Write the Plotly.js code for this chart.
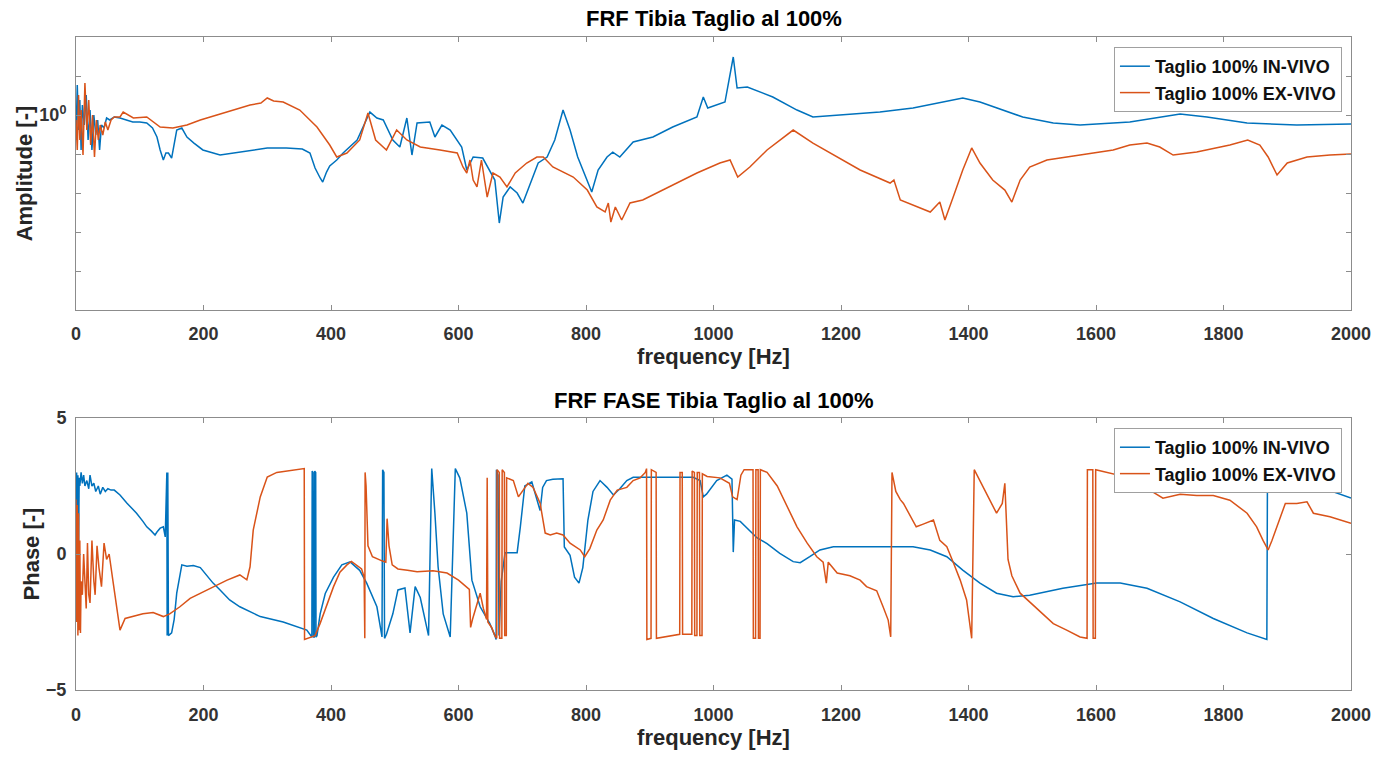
<!DOCTYPE html>
<html>
<head>
<meta charset="utf-8">
<script src="https://cdn.plot.ly/plotly-3.0.1.min.js"></script>
<style>html,body{margin:0;padding:0;background:#fff}#chart{width:1397px;height:760px}</style>
</head>
<body>
<div id="chart"></div>
<script>
// ---------- DATA (frequency [Hz], value) ----------
const seriesNames = ['Taglio 100% IN-VIVO', 'Taglio 100% EX-VIVO'];
const xTicks = [0, 200, 400, 600, 800, 1000, 1200, 1400, 1600, 1800, 2000];
const ampDecades = [1e-5, 1e-4, 1e-3, 1e-2, 1e-1, 1, 10, 100];
const ampLabelVals = [1];
const ampLabelText = ['10<sup>0</sup>'];
const phaseTicks = [-5, 0, 5];

// Amplitude [-] (log scale)
const ampInVivo = [[0,0.229],[2,5.88],[4,0.412],[6,2.42],[8,0.127],[10,1.80],[13,0.554],[16,3.26],[19,0.229],[22,1.34],
[25,0.127],[28,1.00],[31,0.307],[34,0.745],[37,0.127],[40,0.554],[44,0.464],[48,0.838],[53,0.745],[60,0.889],
[69,0.838],[80,0.745],[89,0.662],[100,0.662],[111,0.624],[120,0.464],[127,0.273],[132,0.127],[137,0.0702],[141,0.106],
[145,0.106],[150,0.0789],[158,0.412],[166,0.464],[174,0.273],[185,0.191],[199,0.127],[226,0.0942],[246,0.106],[273,0.127],
[300,0.143],[330,0.143],[355,0.134],[367,0.106],[375,0.0438],[383,0.0243],[387,0.0191],[393,0.0345],[398,0.0492],[409,0.0702],
[419,0.106],[441,0.229],[461,1.19],[472,0.838],[482,0.745],[497,0.229],[508,0.151],[519,0.838],[527,0.0942],[535,0.624],
[555,0.662],[563,0.273],[574,0.554],[587,0.412],[605,0.151],[613,0.0389],[623,0.0838],[638,0.0789],[649,0.0389],[657,0.0215],
[664,0.00170],[670,0.00789],[681,0.0143],[692,0.0100],[701,0.00554],[709,0.0119],[725,0.0588],[739,0.0838],[751,0.229],[764,1.34],
[775,0.412],[787,0.0838],[802,0.0215],[809,0.0106],[819,0.0389],[833,0.0838],[842,0.112],[853,0.0838],[874,0.203],[905,0.273],
[936,0.492],[974,0.889],[984,2.90],[991,1.51],[1018,2.15],[1031,30.7],[1037,4.92],[1053,5.22],[1093,2.90],[1131,1.34],
[1156,0.889],[1198,1.00],[1261,1.19],[1313,1.51],[1391,2.73],[1418,2.15],[1485,0.889],[1533,0.624],[1575,0.554],[1653,0.662],
[1732,1.06],[1774,0.889],[1837,0.624],[1915,0.554],[2000,0.588]];

const ampExVivo = [[0,0.745],[2,0.127],[4,3.26],[6,0.229],[8,1.34],[11,0.0942],[14,6.61],[17,0.412],[20,2.42],[23,0.170],
[26,1.00],[29,0.0838],[32,0.745],[35,0.229],[38,0.554],[42,0.307],[46,0.662],[50,0.412],[55,0.745],[60,0.889],
[69,0.889],[74,1.19],[90,0.838],[111,0.889],[132,0.492],[152,0.464],[174,0.554],[195,0.745],[221,1.00],[246,1.34],
[273,1.80],[290,2.03],[300,2.73],[310,2.29],[325,2.15],[351,1.34],[378,0.492],[398,0.170],[409,0.0838],[425,0.106],
[445,0.229],[458,1.13],[470,0.229],[487,0.127],[503,0.412],[519,0.229],[540,0.151],[571,0.127],[598,0.106],[607,0.0464],
[613,0.0326],[618,0.0702],[623,0.0215],[629,0.0143],[636,0.0702],[645,0.00789],[654,0.0326],[665,0.0257],[676,0.0143],[689,0.0326],
[707,0.0588],[723,0.0838],[733,0.0838],[748,0.0464],[780,0.0257],[802,0.0119],[817,0.00438],[830,0.00326],[835,0.00554],[839,0.00180],
[846,0.00438],[856,0.00203],[869,0.00554],[889,0.00662],[911,0.0100],[943,0.0180],[974,0.0326],[1010,0.0588],[1026,0.0702],[1038,0.0257],
[1057,0.0464],[1084,0.127],[1125,0.412],[1156,0.191],[1194,0.0838],[1230,0.0389],[1277,0.0180],[1283,0.0215],[1293,0.00662],[1319,0.00438],
[1340,0.00326],[1355,0.00588],[1363,0.00203],[1376,0.00789],[1391,0.0389],[1405,0.143],[1418,0.0588],[1438,0.0215],[1457,0.0119],[1468,0.00588],
[1481,0.0215],[1496,0.0464],[1523,0.0702],[1575,0.0942],[1627,0.127],[1653,0.170],[1680,0.191],[1700,0.151],[1721,0.0942],[1758,0.112],
[1810,0.170],[1838,0.229],[1857,0.170],[1870,0.0838],[1884,0.0290],[1900,0.0588],[1931,0.0838],[1967,0.0942],[2000,0.100]];

// Phase [-]
const phaseInVivo = [[0,-2.5],[1,3.0],[2,-1.0],[3,2.9],[4,0.0],[5,2.8],[6,2.5],[8,3.0],[10,2.6],[12,2.9],
[14,2.5],[17,2.7],[20,2.4],[22,2.9],[25,2.5],[28,2.6],[31,2.3],[35,2.5],[38,2.2],[42,2.45],
[46,2.3],[50,2.4],[55,2.35],[60,2.35],[69,2.17],[80,1.87],[95,1.5],[105,1.2],[111,1.0],[118,0.85],
[124,0.7],[127,0.81],[132,0.95],[137,1.0],[140,0.63],[142.5,3.0],[143,-3.0],[144,3.0],[145,-3.0],[150,-2.9],
[154,-2.4],[158,-1.44],[166,-0.4],[174,-0.45],[184,-0.42],[195,-0.5],[202,-0.7],[215,-1.07],[226,-1.32],[241,-1.69],
[257,-1.94],[289,-2.3],[325,-2.5],[362,-2.8],[370,-3.05],[370.5,3.05],[372,3.0],[372.5,-3.05],[374,-3.05],[374.5,3.05],
[376,3.0],[376.5,-3.05],[378,-3.0],[383,-2.2],[391,-1.45],[404,-0.85],[417,-0.4],[430,-0.29],[445,-0.6],[456,-1.07],
[472,-1.94],[480,-3.05],[481,3.1],[483,3.0],[484,-3.1],[487,-2.95],[497,-2.2],[505,-1.32],[516,-1.25],[524,-2.9],
[532,-1.2],[540,-1.6],[553,-3.0],[558,3.14],[563,1.5],[568,-0.47],[576,-2.2],[587,-3.05],[595,3.14],[602,2.8],
[613,1.5],[621,-0.96],[634,-1.94],[649,-2.55],[657,-3.0],[659,-3.14],[659.5,3.1],[662,2.9],[663.5,-3.0],[667,-1.0],
[673,0.05],[692,0.05],[697,1.0],[704,2.5],[715,2.65],[728,1.6],[732,2.45],[738,2.7],[748,2.75],[764,2.77],
[766,0.26],[775,-0.05],[782,-0.85],[789,-1.07],[795,-0.5],[803,1.25],[811,2.3],[822,2.7],[833,2.45],[843,2.17],
[853,2.4],[864,2.7],[874,2.82],[895,2.82],[926,2.8],[952,2.8],[968,2.82],[979,2.7],[984,2.1],[989,2.2],
[1005,2.7],[1021,2.9],[1029,2.75],[1031,0.07],[1033,1.25],[1042,1.2],[1052,0.98],[1068,0.6],[1084,0.38],[1104,0.02],
[1125,-0.28],[1136,-0.32],[1151,-0.1],[1167,0.15],[1188,0.27],[1240,0.28],[1293,0.27],[1313,0.27],[1340,0.15],[1366,-0.1],
[1391,-0.59],[1418,-1.07],[1444,-1.44],[1470,-1.57],[1496,-1.52],[1548,-1.26],[1601,-1.07],[1638,-1.07],[1680,-1.26],[1732,-1.76],
[1784,-2.37],[1837,-2.9],[1868,-3.14],[1869,3.14],[1920,2.72],[2000,2.06]];

const phaseExVivo = [[0,2.0],[1,-2.5],[2,1.8],[3,-3.0],[4,1.5],[5,-2.8],[6,0.5],[7,-2.9],[8,-1.0],[10,-1.5],
[12,0.0],[14,-1.2],[16,-2.0],[18,0.4],[20,-1.5],[22,-1.8],[25,0.5],[28,-1.0],[30,-1.5],[33,0.3],
[36,-0.5],[40,-1.2],[44,0.4],[48,-0.2],[52,0.0],[58,-1.0],[64,-2.0],[69,-2.8],[77,-2.37],[90,-2.3],
[105,-2.2],[121,-2.15],[137,-2.3],[147,-2.2],[163,-1.94],[179,-1.63],[195,-1.44],[215,-1.2],[237,-0.96],[257,-0.77],
[268,-0.95],[273,-0.47],[278,0.88],[289,2.1],[300,2.83],[315,3.0],[351,3.1],[358,3.14],[358.5,-3.14],[375,-3.0],
[383,-2.55],[393,-1.94],[404,-1.2],[414,-0.67],[425,-0.4],[432,-0.27],[440,-0.4],[448,-0.55],[452,-0.85],[453,-3.1],
[453.5,3.0],[455,2.5],[458,0.3],[465,-0.1],[480,-0.25],[486,-0.3],[488,1.3],[491,0.3],[496,-0.4],[505,-0.55],
[520,-0.6],[535,-0.65],[560,-0.62],[582,-0.7],[600,-0.96],[613,-1.2],[617,-1.3],[619,-2.7],[622,-2.4],[634,-1.44],
[639,-2.0],[644,-2.4],[645,2.8],[646,-2.5],[652,-2.7],[657,-3.0],[660,-3.1],[660.5,3.1],[664,3.0],[664.5,-3.1],
[668,-3.1],[668.5,3.1],[672,3.0],[672.5,-3.0],[675,-3.0],[675.5,2.8],[686,2.7],[694,2.1],[702,2.35],[709,2.6],
[717,2.45],[728,1.87],[736,0.77],[744,0.7],[754,0.77],[764,0.7],[775,0.4],[791,0.15],[798,-0.1],[806,0.2],
[817,0.88],[827,1.25],[838,1.98],[849,2.35],[864,2.45],[874,2.7],[885,2.8],[893,3.0],[895,3.14],[895.5,-3.14],
[902,-3.1],[902.5,3.1],[910,3.0],[910.5,-3.1],[947,-2.95],[947.5,3.0],[951,3.0],[951.5,-2.95],[966,-2.95],[966.5,3.05],
[970,3.0],[970.5,-3.0],[974,-3.0],[974.5,3.0],[978,3.0],[978.5,-3.0],[982,-3.0],[982.5,2.95],[990,2.85],[1010,2.8],
[1025,2.6],[1030,2.1],[1037,2.0],[1043,2.9],[1048,3.1],[1062,3.1],[1062.5,-3.1],[1066,-3.1],[1066.5,3.1],[1070,3.1],
[1070.5,-3.1],[1073,-3.1],[1073.5,3.1],[1084,3.0],[1100,2.5],[1115,1.77],[1131,1.0],[1147,0.4],[1162,-0.1],[1172,-0.3],
[1177,-1.07],[1180,-0.3],[1194,-0.7],[1214,-0.8],[1230,-0.96],[1240,-1.2],[1256,-1.35],[1266,-1.94],[1274,-2.43],[1278,-3.05],
[1280,3.0],[1286,2.3],[1293,2.0],[1298,1.86],[1304,1.6],[1311,1.25],[1318,1.0],[1329,1.1],[1345,1.25],[1355,0.5],
[1366,0.27],[1376,-0.3],[1387,-0.96],[1397,-1.69],[1405,-3.1],[1409,3.1],[1418,2.7],[1434,1.98],[1444,1.5],[1453,1.86],
[1457,2.6],[1462,-0.2],[1468,-0.8],[1481,-1.44],[1507,-2.0],[1533,-2.56],[1554,-2.8],[1575,-3.05],[1586,-3.1],[1586.5,3.1],
[1595,3.1],[1595.5,-3.1],[1599,-3.1],[1599.5,3.1],[1653,2.8],[1680,2.4],[1705,2.05],[1732,2.2],[1758,2.15],[1784,2.15],
[1810,1.98],[1837,1.5],[1852,1.0],[1862,0.5],[1870,0.15],[1876,0.5],[1884,1.0],[1897,1.86],[1915,1.86],[1931,1.92],
[1941,1.5],[1967,1.37],[2000,1.13]];

// ---------- STYLE ----------
const BLUE = '#0072BD', ORANGE = '#D95319';
const FONT = 'Liberation Sans, Arial, Helvetica, sans-serif';
const AXC = '#8c8c8c';
const TICKFONT = {family: FONT, size: 18, color: '#333', weight: 'bold'};
const LABELFONT = {family: FONT, size: 22, color: '#262626', weight: 'bold'};

const xs = d => d.map(p => p[0]);
const ys = d => d.map(p => p[1]);

const traces = [
  {x: xs(ampInVivo), y: ys(ampInVivo), xaxis: 'x', yaxis: 'y', name: seriesNames[0], mode: 'lines', line: {color: BLUE, width: 1.5}, legend: 'legend'},
  {x: xs(ampExVivo), y: ys(ampExVivo), xaxis: 'x', yaxis: 'y', name: seriesNames[1], mode: 'lines', line: {color: ORANGE, width: 1.5}, legend: 'legend'},
  {x: xs(phaseInVivo), y: ys(phaseInVivo), xaxis: 'x2', yaxis: 'y2', name: seriesNames[0], mode: 'lines', line: {color: BLUE, width: 1.5}, legend: 'legend2'},
  {x: xs(phaseExVivo), y: ys(phaseExVivo), xaxis: 'x2', yaxis: 'y2', name: seriesNames[1], mode: 'lines', line: {color: ORANGE, width: 1.5}, legend: 'legend2'}
];

const axBase = {
  showline: true, linecolor: AXC, linewidth: 1, mirror: 'ticks',
  ticks: 'inside', ticklen: 5, tickcolor: AXC, tickwidth: 1,
  showgrid: false, zeroline: false, tickfont: TICKFONT
};
const xTitle = {text: 'frequency [Hz]', font: LABELFONT, standoff: 0};

const legendBase = {
  xref: 'paper', yref: 'paper', xanchor: 'right', yanchor: 'top',
  bgcolor: '#ffffff', bordercolor: '#a0a0a0', borderwidth: 1,
  font: {family: FONT, size: 18, color: '#111', weight: 'bold'},
  tracegroupgap: 0, itemwidth: 30
};

const layout = {
  width: 1397, height: 760,
  margin: {l: 76, r: 46, t: 37, b: 70},
  paper_bgcolor: '#fff', plot_bgcolor: '#fff',
  font: {family: FONT, size: 18, color: '#262626', weight: 'bold'},
  showlegend: true,
  xaxis: Object.assign({}, axBase, {domain: [0, 1], anchor: 'y', range: [0, 2000], tickvals: xTicks, title: xTitle, ticklabelstandoff: 7}),
  yaxis: Object.assign({}, axBase, {domain: [0.5819, 1], anchor: 'x', type: 'log', range: [-5, 2],
    tickvals: ampLabelVals, ticktext: ampLabelText, ticklabelstandoff: 5,
    minor: {tickvals: ampDecades, ticks: 'inside', ticklen: 5, tickcolor: AXC, tickwidth: 1, showgrid: false},
    title: {text: 'Amplitude [-]', font: LABELFONT, standoff: 0}}),
  xaxis2: Object.assign({}, axBase, {domain: [0, 1], anchor: 'y2', range: [0, 2000], tickvals: xTicks, title: xTitle, ticklabelstandoff: 8}),
  yaxis2: Object.assign({}, axBase, {domain: [0, 0.4165], anchor: 'x2', range: [-5, 5], tickvals: phaseTicks, ticklabelstandoff: 5,
    title: {text: 'Phase [-]', font: LABELFONT, standoff: 0}}),
  legend: Object.assign({}, legendBase, {x: 0.9929, y: 0.9847}),
  legend2: Object.assign({}, legendBase, {x: 0.9929, y: 0.4012}),
  annotations: [
    {text: 'FRF Tibia Taglio al 100%', xref: 'paper', yref: 'paper', x: 0.5, y: 1.029, xanchor: 'center', yanchor: 'middle',
     showarrow: false, font: {family: FONT, size: 22, color: '#000', weight: 'bold'}},
    {text: 'FRF FASE Tibia Taglio al 100%', xref: 'paper', yref: 'paper', x: 0.5, y: 0.4426, xanchor: 'center', yanchor: 'middle',
     showarrow: false, font: {family: FONT, size: 22, color: '#000', weight: 'bold'}}
  ]
};

Plotly.newPlot('chart', traces, layout, {displayModeBar: false, staticPlot: true});
</script>
</body>
</html>
